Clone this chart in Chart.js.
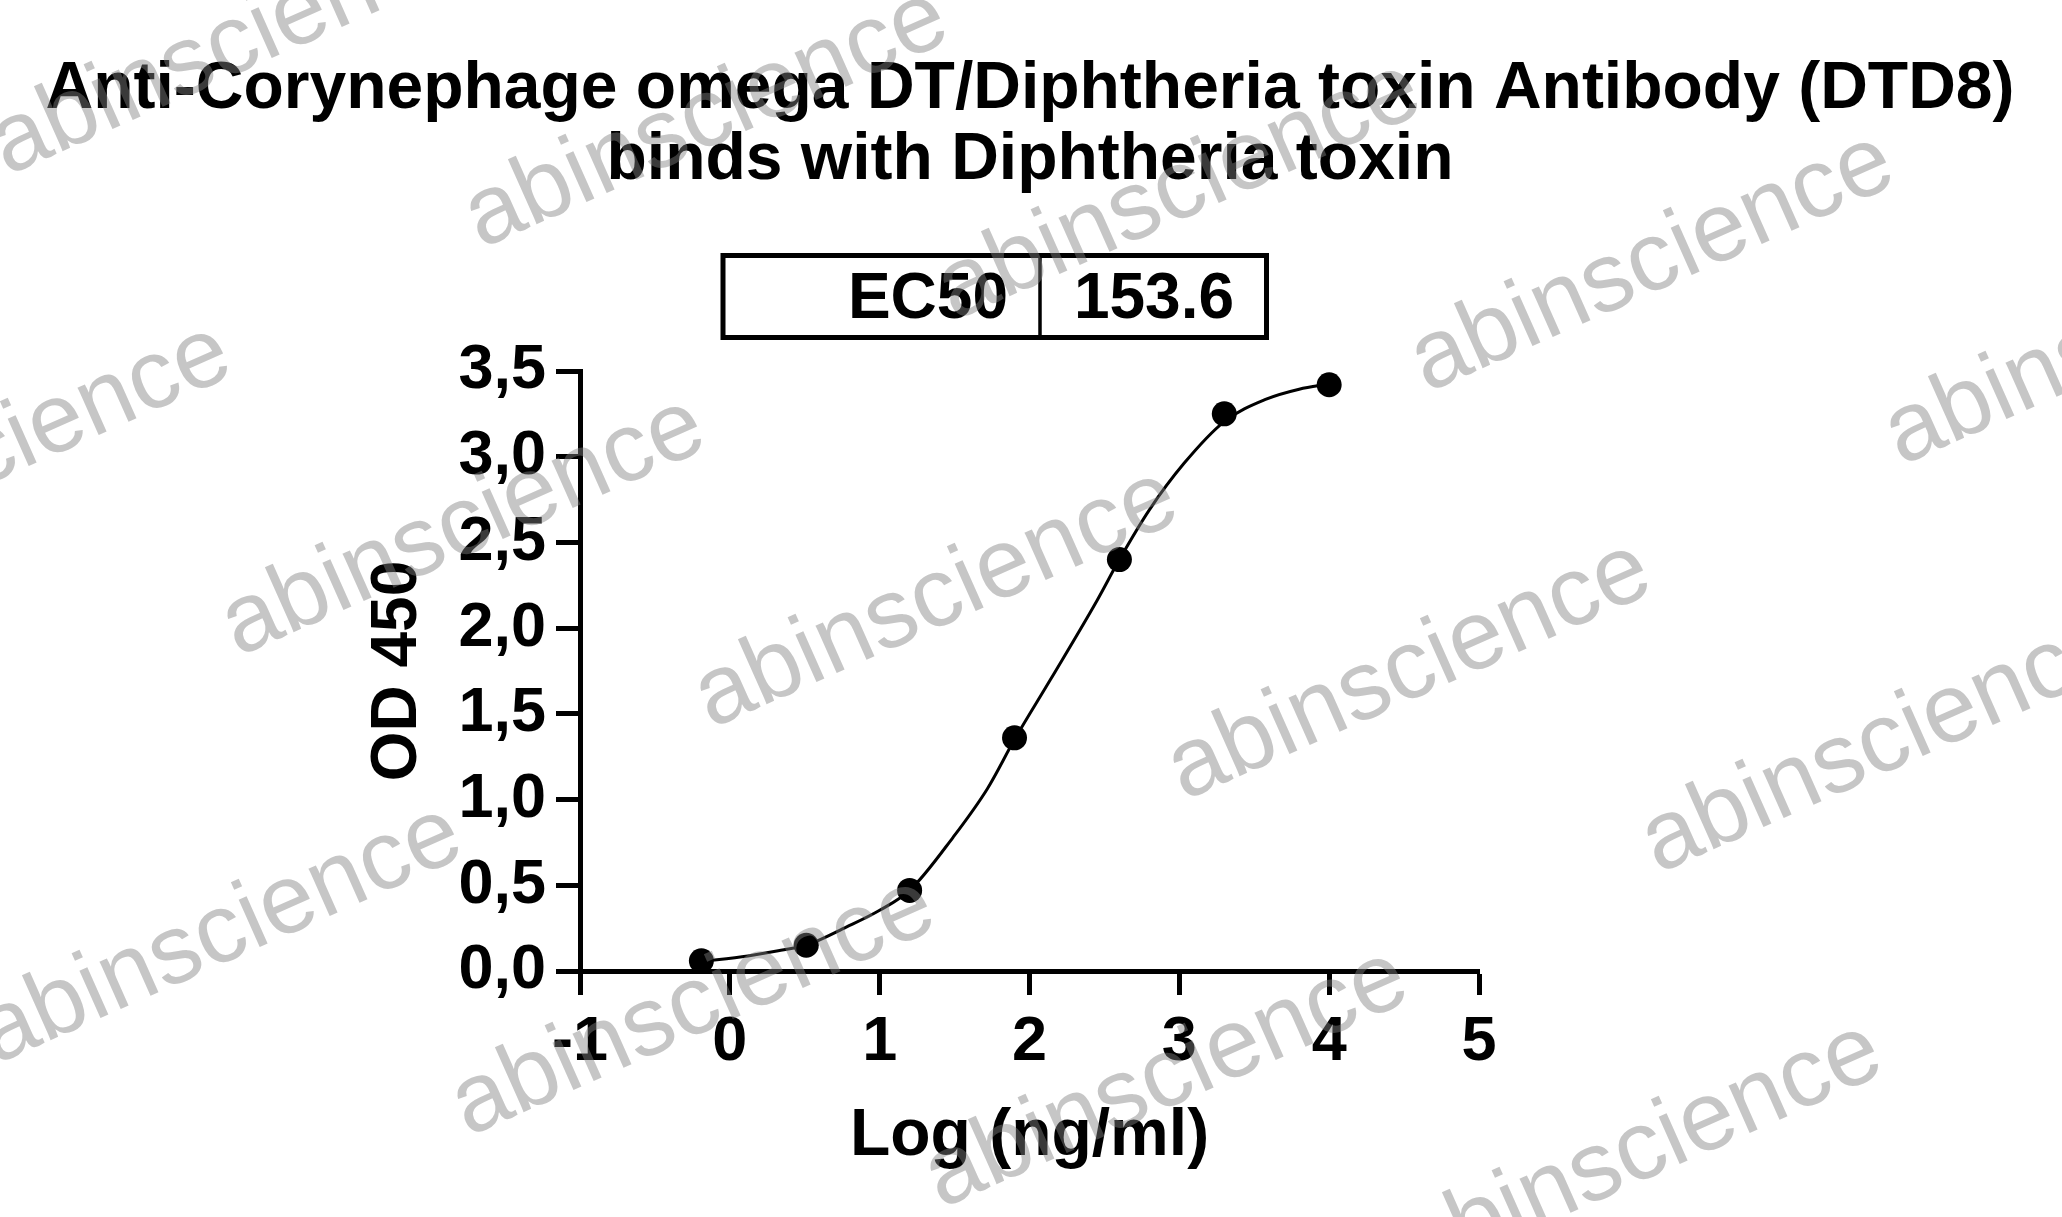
<!DOCTYPE html>
<html>
<head>
<meta charset="utf-8">
<script src="https://cdn.jsdelivr.net/npm/chart.js@4.4.1/dist/chart.umd.min.js"></script>
<style>
html,body{margin:0;padding:0;background:#fff;}
#wrap{width:2062px;height:1217px;position:relative;}
</style>
</head>
<body>
<div id="wrap"><canvas id="c" width="2062" height="1217"></canvas></div>
<script>
// ---- data ----
const titleLines = ['Anti-Corynephage omega DT/Diphtheria toxin Antibody (DTD8)', 'binds with Diphtheria toxin'];
const ec50Label = 'EC50';
const ec50Value = '153.6';
const xTitle = 'Log (ng/ml)';
const yTitle = 'OD 450';

const logConc = [-0.19, 0.51, 1.2, 1.9, 2.6, 3.3, 4.0];
const od450   = [0.06, 0.15, 0.47, 1.36, 2.40, 3.25, 3.42];

// fitted curve
const fitX = [-0.19, 0.12, 0.34, 0.51, 0.78, 1.0, 1.2, 1.49, 1.72, 1.9, 2.14, 2.45, 2.6, 2.8, 3.03, 3.3, 3.58, 3.8, 4.0];
const fitY = [0.055, 0.088, 0.121, 0.15, 0.257, 0.354, 0.47, 0.78, 1.065, 1.35, 1.70, 2.16, 2.40, 2.69, 2.96, 3.205, 3.336, 3.394, 3.425];

const xTicks = [-1, 0, 1, 2, 3, 4, 5];
const xTickLabels = ['-1', '0', '1', '2', '3', '4', '5'];
const yTicks = [0, 0.5, 1, 1.5, 2, 2.5, 3, 3.5];
const yTickLabels = ['0,0', '0,5', '1,0', '1,5', '2,0', '2,5', '3,0', '3,5'];

const watermarkText = 'abinscience';

// ---- styling ----
const FONT = '"Liberation Sans", Arial, Helvetica, sans-serif';
const wmAnchors = [
  [7,176],[481,249],[954,321],[1427,393],[1901,466],
  [-236,584],[238,657],[711,729],[1184,801],[1658,874],
  [-5,1065],[468,1137],[941,1209],[1415,1282]
];

const decor = {
  id: 'decor',
  afterDraw(chart) {
    const ctx = chart.ctx;
    ctx.save();
    // title
    ctx.fillStyle = '#000';
    ctx.textAlign = 'center';
    ctx.textBaseline = 'alphabetic';
    ctx.font = 'bold 66px ' + FONT;
    ctx.fillText(titleLines[0], 1030, 108);
    ctx.fillText(titleLines[1], 1030, 179);
    // EC50 table
    ctx.strokeStyle = '#000';
    ctx.lineWidth = 5;
    ctx.strokeRect(723, 255.5, 543.5, 82);
    ctx.lineWidth = 3.5;
    ctx.beginPath();
    ctx.moveTo(1040, 255.5);
    ctx.lineTo(1040, 337.5);
    ctx.stroke();
    ctx.font = 'bold 64px ' + FONT;
    ctx.textAlign = 'right';
    ctx.fillText(ec50Label, 1008, 318);
    ctx.textAlign = 'center';
    ctx.fillText(ec50Value, 1154, 318);
    // watermarks
    ctx.font = '98px ' + FONT;
    ctx.fillStyle = 'rgba(128,128,128,0.45)';
    ctx.textAlign = 'left';
    for (const [x, y] of wmAnchors) {
      ctx.save();
      ctx.translate(x, y);
      ctx.rotate(-24 * Math.PI / 180);
      ctx.fillText(watermarkText, 0, 0);
      ctx.restore();
    }
    ctx.restore();
  }
};

const tickFont = {family: FONT, size: 63, weight: 'bold', lineHeight: 1.2};

new Chart(document.getElementById('c').getContext('2d'), {
  type: 'scatter',
  data: {
    datasets: [
      {
        label: 'OD 450',
        data: logConc.map((x, i) => ({x: x, y: od450[i]})),
        showLine: false,
        pointRadius: 12.5,
        pointHoverRadius: 12.5,
        pointBackgroundColor: '#000',
        pointBorderColor: '#000',
        pointBorderWidth: 0,
        backgroundColor: '#000',
        borderColor: '#000'
      },
      {
        label: 'Fit',
        data: fitX.map((x, i) => ({x: x, y: fitY[i]})),
        showLine: true,
        pointRadius: 0,
        pointHoverRadius: 0,
        borderColor: '#000',
        borderWidth: 3,
        cubicInterpolationMode: 'monotone',
        fill: false
      }
    ]
  },
  options: {
    responsive: false,
    animation: false,
    devicePixelRatio: 1,
    events: [],
    layout: {padding: {left: 0, top: 371, right: 583, bottom: 0}},
    plugins: {
      legend: {display: false},
      tooltip: {enabled: false},
      title: {display: false}
    },
    scales: {
      x: {
        type: 'linear',
        position: 'bottom',
        min: -1,
        max: 5,
        afterFit(s) { s.height = 246; },
        afterBuildTicks(s) { s.ticks = xTicks.map(v => ({value: v})); },
        ticks: {
          color: '#000',
          font: tickFont,
          padding: 10,
          maxRotation: 0,
          autoSkip: false,
          callback: (v) => xTickLabels[xTicks.indexOf(v)]
        },
        grid: {drawOnChartArea: false, tickLength: 24, tickWidth: 5, tickColor: '#000', color: '#000'},
        border: {color: '#000', width: 5},
        title: {display: true, text: xTitle, color: '#000',
                font: {family: FONT, size: 66, weight: 'bold', lineHeight: 1.2},
                padding: {top: 0, bottom: 41}}
      },
      y: {
        type: 'linear',
        position: 'left',
        min: 0,
        max: 3.5,
        afterFit(s) { s.width = 580; },
        afterBuildTicks(s) { s.ticks = yTicks.map(v => ({value: v})); },
        ticks: {
          color: '#000',
          font: tickFont,
          padding: 10,
          autoSkip: false,
          callback: (v) => yTickLabels[yTicks.indexOf(Math.round(v * 10) / 10)]
        },
        grid: {drawOnChartArea: false, tickLength: 24, tickWidth: 5, tickColor: '#000', color: '#000'},
        border: {color: '#000', width: 5},
        title: {display: true, text: yTitle, color: '#000',
                font: {family: FONT, size: 64, weight: 'bold', lineHeight: 1.2},
                padding: {top: 360, bottom: 0}}
      }
    }
  },
  plugins: [decor]
});
</script>
</body>
</html>
